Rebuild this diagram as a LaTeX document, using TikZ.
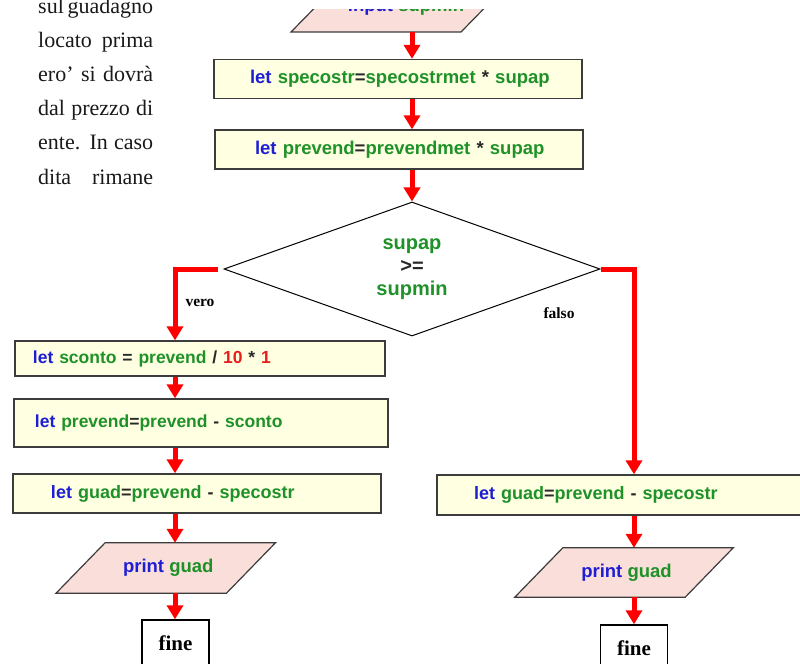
\documentclass[tikz,border=0pt]{standalone}
\usepackage{fontspec}
\setmainfont{Liberation Serif}
\setsansfont{Liberation Sans}
\usetikzlibrary{shapes.geometric,arrows.meta,calc,backgrounds}

\definecolor{kwblue}{RGB}{30,30,210}
\definecolor{vargreen}{RGB}{30,145,40}
\definecolor{numred}{RGB}{230,30,30}
\definecolor{opgray}{RGB}{40,40,40}
\definecolor{procfill}{RGB}{255,255,226}
\definecolor{iofill}{RGB}{250,222,218}
\definecolor{edgegray}{RGB}{60,60,60}
\definecolor{flowred}{RGB}{255,0,0}
\definecolor{bodyink}{RGB}{25,25,25}

% colouring of the pseudo-code tokens
\newcommand{\kwd}[1]{\textcolor{kwblue}{#1}}
\newcommand{\vname}[1]{\textcolor{vargreen}{#1}}
\newcommand{\opsym}[1]{\textcolor{opgray}{#1}}
\newcommand{\numlit}[1]{\textcolor{numred}{#1}}

\tikzset{
  codefont/.style={font=\sffamily\bfseries\fontsize{#1}{#1}\selectfont},
  proc/.style={draw=edgegray, line width=1.3bp, fill=procfill, rectangle,
    inner xsep=0pt, inner ysep=0pt, align=left},
  iobox/.style={rectangle, minimum width=170bp, inner sep=0pt, codefont=18.5bp},
  ioedge/.style={draw=edgegray, line width=1.2bp, fill=iofill},
  decision/.style={diamond, draw=black, line width=1bp, inner sep=0pt,
    minimum width=376bp, minimum height=134bp, align=center,
    font=\sffamily\bfseries\fontsize{20bp}{23bp}\selectfont},
  endbox/.style={draw=black, line width=1.4bp, fill=white, minimum width=67bp,
    minimum height=46bp, inner sep=0pt,
    font=\rmfamily\bfseries\fontsize{21bp}{21bp}\selectfont},
  branchlbl/.style={inner sep=0pt, font=\rmfamily\bfseries\fontsize{15.5bp}{15.5bp}\selectfont},
  bodyline/.style={anchor=base west, inner sep=0pt, text=bodyink,
    font=\rmfamily\fontsize{22bp}{22bp}\selectfont},
  flow/.style={draw=flowred, line width=5bp, line join=miter,
    -{Triangle[width=16bp,length=14bp]}},
}

\begin{document}
\begin{tikzpicture}[x=1bp,y=-1bp]
\useasboundingbox (0,0) rectangle (800,664);
\clip (0,0) rectangle (800,664);

% paragraph of the surrounding page
\node[bodyline] (t1) at (38,14)  {\makebox[115bp][s]{sul guadagno}};
\node[bodyline] (t2) at (38,48)  {\makebox[115bp][s]{locato prima}};
\node[bodyline] (t3) at (38,82)  {\makebox[115bp][s]{ero’ si dovrà}};
\node[bodyline] (t4) at (38,116) {\makebox[115bp][s]{dal prezzo di}};
\node[bodyline] (t5) at (38,150) {\makebox[115bp][s]{ente. In caso}};
\node[bodyline] (t6) at (38,184) {\makebox[115bp][s]{dita rimane}};

% columns of the flow lines
\coordinate (xM) at (412,0);
\coordinate (xL) at (175,0);
\coordinate (xR) at (634,0);

% input block: the chart is cut off a little below the page top
\begin{scope}
  \clip (170,10) rectangle (800,664);
  \coordinate (pinC) at (400.5,7);
  \path[ioedge] ($(pinC)+(-109.5,25)$) -- ($(pinC)+(-60.5,-25)$)
    -- ($(pinC)+(109.5,-25)$) -- ($(pinC)+(60.5,25)$) -- cycle;
  \node[iobox, minimum height=50bp] (pin) at (pinC)
    {\raisebox{-2bp}{\hspace*{11bp}\kwd{input} \vname{supmin}}};
\end{scope}

% main column
\node[proc, codefont=18.5bp, text width=368bp, minimum height=39bp] (b1) at (398,79)
  {\hspace*{36bp}\kwd{let} \vname{specostr}\opsym{=}\vname{specostrmet} \opsym{*} \vname{supap}};
\node[proc, codefont=18.5bp, text width=368bp, minimum height=39bp] (b2) at (399,149.5)
  {\hspace*{40bp}\kwd{let} \vname{prevend}\opsym{=}\vname{prevendmet} \opsym{*} \vname{supap}};
\node[decision] (dia) at (412,269)
  {\vname{supap}\\\opsym{>=}\\\vname{supmin}};

% "vero" branch
\node[proc, codefont=17.5bp, text width=370bp, minimum height=35bp] (sc) at (200,358.5)
  {\hspace*{18bp}\kwd{let} \vname{sconto} \opsym{=} \vname{prevend} \opsym{/} \numlit{10} \opsym{*} \numlit{1}};
\node[proc, codefont=17.5bp, text width=374bp, minimum height=48bp] (pv) at (201,423)
  {\hspace*{21bp}\kwd{let} \vname{prevend}\opsym{=}\vname{prevend} \opsym{-} \vname{sconto}};
\node[proc, codefont=18bp, text width=368bp, minimum height=39bp] (gL) at (197,493.5)
  {\hspace*{38bp}\kwd{let} \vname{guad}\opsym{=}\vname{prevend} \opsym{-} \vname{specostr}};
\node[iobox, minimum height=50bp] (pL) at (165.75,568) {\hspace*{5bp}\kwd{print} \vname{guad}};
\node[endbox] (fL) at (175.5,643) {fine};

% "falso" branch
\node[proc, codefont=18bp, text width=383bp, minimum height=40bp] (gR) at (628.5,495)
  {\hspace*{37bp}\kwd{let} \vname{guad}\opsym{=}\vname{prevend} \opsym{-} \vname{specostr}};
\node[iobox, minimum height=49bp] (pR) at (624,572.5) {\hspace*{5bp}\kwd{print} \vname{guad}};
\node[endbox] (fR) at (634,648) {fine};

% output parallelograms behind their labels
\begin{scope}[on background layer]
  \foreach \p/\s in {pL/24.5, pR/24}{
    \path[ioedge] ($(\p.south west)+(-\s,0)$) -- ($(\p.north west)+(\s,0)$)
      -- ($(\p.north east)+(\s,0)$) -- ($(\p.south east)+(-\s,0)$) -- cycle;
  }
\end{scope}

% branch labels
\node[branchlbl] (lv) at (200,303) {vero};
\node[branchlbl] (lf) at (559,313) {falso};

% flow lines
\draw[flow] (pin.south -| xM) -- (b1.north -| xM);
\draw[flow] (b1.south -| xM) -- (b2.north -| xM);
\draw[flow] (b2.south -| xM) -- (dia.north);
\draw[flow] ([xshift=-6bp]dia.west) -| (xL |- sc.north);
\draw[flow] (dia.east) -| (xR |- gR.north);
\draw[flow] (sc.south -| xL) -- (pv.north -| xL);
\draw[flow] (pv.south -| xL) -- (gL.north -| xL);
\draw[flow] (gL.south -| xL) -- (pL.north -| xL);
\draw[flow] (pL.south -| xL) -- (fL.north -| xL);
\draw[flow] (gR.south -| xR) -- (pR.north -| xR);
\draw[flow] (pR.south -| xR) -- (fR.north -| xR);
\end{tikzpicture}
\end{document}
